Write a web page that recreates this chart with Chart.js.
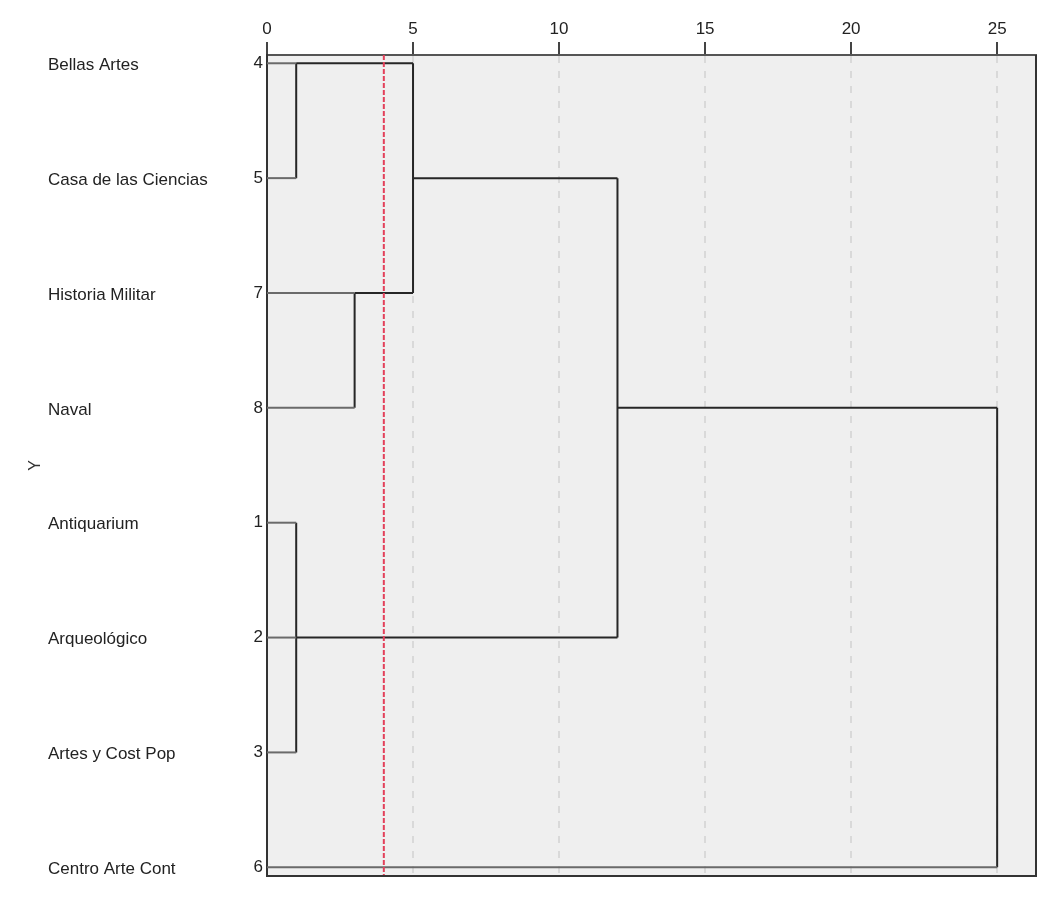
<!DOCTYPE html>
<html>
<head>
<meta charset="utf-8">
<script src="https://cdn.jsdelivr.net/npm/chart.js@4.4.0/dist/chart.umd.min.js"></script>
<style>
  body { margin: 0; background: #fff; }
</style>
</head>
<body>
<canvas id="chart" width="1063" height="897"></canvas>
<script>
// hojas del dendrograma, de arriba abajo, con su número de caso
const leafNames = ['Bellas Artes', 'Casa de las Ciencias', 'Historia Militar', 'Naval', 'Antiquarium', 'Arqueológico', 'Artes y Cost Pop', 'Centro Arte Cont'];
const leafIds = [4, 5, 7, 8, 1, 2, 3, 6];
const xTicks = [0, 5, 10, 15, 20, 25];

// uniones: hijos (L = fila de hoja, C = cluster anterior), distancia reescalada y fila por donde sigue el cluster
const clusterChildren = [['L0', 'L1'], ['L2', 'L3'], ['C0', 'C1'], ['L4', 'L5', 'L6'], ['C2', 'C3'], ['C4', 'L7']];
const clusterHeight = [1, 3, 5, 1, 12, 25];
const clusterRow = [0, 2, 1, 5, 3, 3];
const cutLine = 4;

const xMax = 26.33;
const yMin = -0.072, yMax = 7.076;

const leafColor = '#6a6a6a';
const linkColor = '#262626';
const font = '"Liberation Sans", Arial, sans-serif';

const datasets = [];
// linea de corte roja (va primero para quedar encima)
datasets.push({
  data: [{ x: cutLine, y: yMin }, { x: cutLine, y: yMax }],
  borderColor: '#e3405a',
  borderWidth: 2,
  borderDash: [5, 2]
});

clusterChildren.forEach((kids, i) => {
  const h = clusterHeight[i];
  const rows = [];
  kids.forEach(k => {
    const idx = +k.slice(1);
    const isLeaf = k[0] === 'L';
    const row = isLeaf ? idx : clusterRow[idx];
    const from = isLeaf ? 0 : clusterHeight[idx];
    rows.push(row);
    datasets.push({
      data: [{ x: from, y: row }, { x: h, y: row }],
      borderColor: isLeaf ? leafColor : linkColor,
      borderWidth: 2
    });
  });
  datasets.push({
    data: [{ x: h, y: Math.min(...rows) }, { x: h, y: Math.max(...rows) }],
    borderColor: linkColor,
    borderWidth: 2
  });
});

// fondo gris, marco derecho/inferior y nombres de las hojas
const plotFrame = {
  id: 'plotFrame',
  beforeDraw(chart) {
    const { ctx, chartArea: a } = chart;
    ctx.save();
    ctx.fillStyle = '#efefef';
    ctx.fillRect(a.left, a.top, a.right - a.left, a.bottom - a.top);
    ctx.restore();
  },
  afterDraw(chart) {
    const { ctx, chartArea: a } = chart;
    ctx.save();
    ctx.strokeStyle = '#333';
    ctx.lineWidth = 2;
    ctx.beginPath();
    ctx.moveTo(a.right, a.top);
    ctx.lineTo(a.right, a.bottom);
    ctx.lineTo(a.left, a.bottom);
    ctx.stroke();

    ctx.fillStyle = '#222';
    ctx.font = '17px ' + font;
    ctx.textAlign = 'left';
    ctx.textBaseline = 'middle';
    const yScale = chart.scales.y;
    leafNames.forEach((name, i) => {
      ctx.fillText(name, 48, yScale.getPixelForValue(i) + 2);
    });
    ctx.restore();
  }
};

new Chart(document.getElementById('chart'), {
  type: 'scatter',
  data: { datasets: datasets },
  plugins: [plotFrame],
  options: {
    responsive: false,
    animation: false,
    events: [],
    showLine: true,
    elements: { point: { radius: 0 } },
    layout: { padding: { top: 0, left: 0, right: 27, bottom: 21 } },
    plugins: { legend: { display: false }, tooltip: { enabled: false } },
    scales: {
      x: {
        type: 'linear',
        position: 'top',
        min: 0,
        max: xMax,
        afterBuildTicks: s => { s.ticks = xTicks.map(v => ({ value: v })); },
        afterFit: s => { s.height = 55; },
        ticks: {
          color: '#222',
          padding: 2,
          font: { family: font, size: 17 }
        },
        grid: {
          color: c => (c.tick && c.tick.value === 0 ? 'rgba(0,0,0,0)' : '#d9d9d9'),
          lineWidth: 2,
          tickColor: '#444',
          tickWidth: 2,
          tickLength: 13
        },
        border: { display: true, color: '#555', width: 2, dash: [7, 8] }
      },
      y: {
        type: 'linear',
        reverse: true,
        min: yMin,
        max: yMax,
        afterBuildTicks: s => { s.ticks = leafIds.map((_, i) => ({ value: i })); },
        afterFit: s => { s.width = 267; },
        ticks: {
          color: '#222',
          padding: 4,
          font: { family: font, size: 17 },
          callback: (v, i) => leafIds[i]
        },
        grid: { display: false, drawTicks: false },
        border: { display: true, color: '#333', width: 2 },
        title: {
          display: true,
          text: 'Y',
          color: '#333',
          padding: { top: 26, bottom: 0 },
          font: { family: font, size: 16 }
        }
      }
    }
  }
});
</script>
</body>
</html>
